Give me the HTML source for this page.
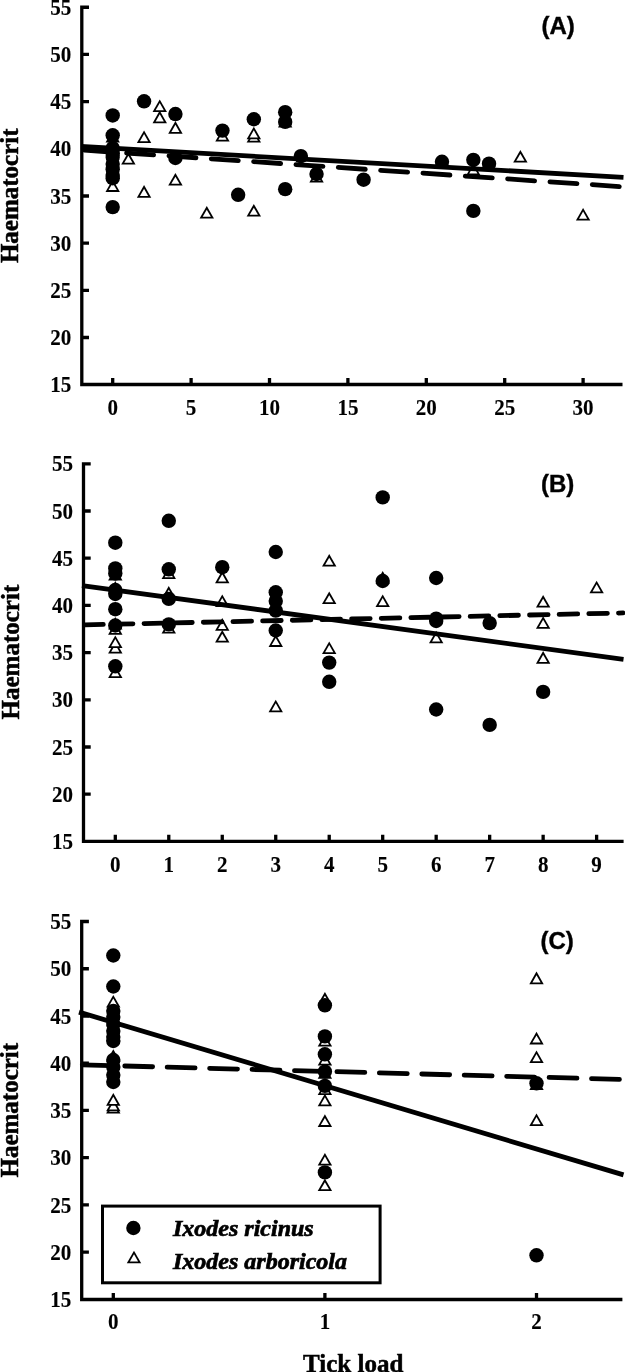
<!DOCTYPE html><html><head><meta charset="utf-8"><style>html,body{margin:0;padding:0;background:#fff;}svg{display:block;will-change:transform;}</style></head><body>
<svg width="625" height="1372" viewBox="0 0 625 1372">
<style>text{font-family:"Liberation Serif",serif;font-weight:bold;stroke:#000;stroke-width:0.12;}.s{font-family:"Liberation Sans",sans-serif;stroke-width:0.4px;}.i{font-style:italic;stroke-width:0.7px;}.h{stroke-width:0.5px;}</style>
<rect width="625" height="1372" fill="#fff"/>
<path d="M583.10 207.90 L590.30 220.50 L575.90 220.50 Z" fill="#000"/><path d="M583.10 211.53 L587.20 218.70 L579.00 218.70 Z" fill="#fff"/>
<path d="M206.78 206.00 L213.98 218.60 L199.58 218.60 Z" fill="#000"/><path d="M206.78 209.63 L210.88 216.80 L202.68 216.80 Z" fill="#fff"/>
<path d="M253.82 204.00 L261.02 216.60 L246.62 216.60 Z" fill="#000"/><path d="M253.82 207.63 L257.92 214.80 L249.72 214.80 Z" fill="#fff"/>
<path d="M144.06 185.10 L151.26 197.70 L136.86 197.70 Z" fill="#000"/><path d="M144.06 188.73 L148.16 195.90 L139.96 195.90 Z" fill="#fff"/>
<path d="M112.70 179.30 L119.90 191.90 L105.50 191.90 Z" fill="#000"/><path d="M112.70 182.93 L116.80 190.10 L108.60 190.10 Z" fill="#fff"/>
<path d="M175.42 173.00 L182.62 185.60 L168.22 185.60 Z" fill="#000"/><path d="M175.42 176.63 L179.52 183.80 L171.32 183.80 Z" fill="#fff"/>
<path d="M316.54 169.90 L323.74 182.50 L309.34 182.50 Z" fill="#000"/><path d="M316.54 173.53 L320.64 180.70 L312.44 180.70 Z" fill="#fff"/>
<path d="M473.34 162.80 L480.54 175.40 L466.14 175.40 Z" fill="#000"/><path d="M473.34 166.43 L477.44 173.60 L469.24 173.60 Z" fill="#fff"/>
<path d="M128.38 152.00 L135.58 164.60 L121.18 164.60 Z" fill="#000"/><path d="M128.38 155.63 L132.48 162.80 L124.28 162.80 Z" fill="#fff"/>
<path d="M520.38 150.00 L527.58 162.60 L513.18 162.60 Z" fill="#000"/><path d="M520.38 153.63 L524.48 160.80 L516.28 160.80 Z" fill="#fff"/>
<path d="M112.70 142.90 L119.90 155.50 L105.50 155.50 Z" fill="#000"/><path d="M112.70 146.53 L116.80 153.70 L108.60 153.70 Z" fill="#fff"/>
<path d="M144.06 130.40 L151.26 143.00 L136.86 143.00 Z" fill="#000"/><path d="M144.06 134.03 L148.16 141.20 L139.96 141.20 Z" fill="#fff"/>
<path d="M112.70 130.00 L119.90 142.60 L105.50 142.60 Z" fill="#000"/><path d="M112.70 133.63 L116.80 140.80 L108.60 140.80 Z" fill="#fff"/>
<path d="M253.82 129.90 L261.02 142.50 L246.62 142.50 Z" fill="#000"/><path d="M253.82 133.53 L257.92 140.70 L249.72 140.70 Z" fill="#fff"/>
<path d="M222.46 128.90 L229.66 141.50 L215.26 141.50 Z" fill="#000"/><path d="M222.46 132.53 L226.56 139.70 L218.36 139.70 Z" fill="#fff"/>
<path d="M253.82 126.70 L261.02 139.30 L246.62 139.30 Z" fill="#000"/><path d="M253.82 130.33 L257.92 137.50 L249.72 137.50 Z" fill="#fff"/>
<path d="M175.42 121.10 L182.62 133.70 L168.22 133.70 Z" fill="#000"/><path d="M175.42 124.73 L179.52 131.90 L171.32 131.90 Z" fill="#fff"/>
<path d="M285.18 115.00 L292.38 127.60 L277.98 127.60 Z" fill="#000"/><path d="M285.18 118.63 L289.28 125.80 L281.08 125.80 Z" fill="#fff"/>
<path d="M159.74 110.60 L166.94 123.20 L152.54 123.20 Z" fill="#000"/><path d="M159.74 114.23 L163.84 121.40 L155.64 121.40 Z" fill="#fff"/>
<path d="M159.74 99.40 L166.94 112.00 L152.54 112.00 Z" fill="#000"/><path d="M159.74 103.03 L163.84 110.20 L155.64 110.20 Z" fill="#fff"/>
<circle cx="112.70" cy="115.46" r="7.2" fill="#000"/>
<circle cx="112.70" cy="135.30" r="7.2" fill="#000"/>
<circle cx="112.70" cy="148.05" r="7.2" fill="#000"/>
<circle cx="112.70" cy="153.25" r="7.2" fill="#000"/>
<circle cx="112.70" cy="157.03" r="7.2" fill="#000"/>
<circle cx="112.70" cy="164.11" r="7.2" fill="#000"/>
<circle cx="112.70" cy="169.31" r="7.2" fill="#000"/>
<circle cx="112.70" cy="174.98" r="7.2" fill="#000"/>
<circle cx="112.70" cy="178.28" r="7.2" fill="#000"/>
<circle cx="112.70" cy="207.10" r="7.2" fill="#000"/>
<circle cx="144.06" cy="101.29" r="7.2" fill="#000"/>
<circle cx="175.42" cy="114.04" r="7.2" fill="#000"/>
<circle cx="175.42" cy="157.97" r="7.2" fill="#000"/>
<circle cx="222.46" cy="130.58" r="7.2" fill="#000"/>
<circle cx="253.82" cy="119.24" r="7.2" fill="#000"/>
<circle cx="285.18" cy="112.15" r="7.2" fill="#000"/>
<circle cx="285.18" cy="121.88" r="7.2" fill="#000"/>
<circle cx="238.14" cy="194.82" r="7.2" fill="#000"/>
<circle cx="285.18" cy="189.15" r="7.2" fill="#000"/>
<circle cx="300.86" cy="156.08" r="7.2" fill="#000"/>
<circle cx="316.54" cy="174.03" r="7.2" fill="#000"/>
<circle cx="363.58" cy="179.70" r="7.2" fill="#000"/>
<circle cx="441.98" cy="161.75" r="7.2" fill="#000"/>
<circle cx="473.34" cy="159.86" r="7.2" fill="#000"/>
<circle cx="489.02" cy="163.64" r="7.2" fill="#000"/>
<circle cx="473.34" cy="210.88" r="7.2" fill="#000"/>
<line x1="81.00" y1="146.43" x2="623.50" y2="177.35" stroke="#000" stroke-width="4.8"/>
<line x1="84.29" y1="150.15" x2="622.00" y2="186.72" stroke="#000" stroke-width="4.8" stroke-dasharray="27.07 15.36" stroke-linecap="round"/>
<path d="M89.00 7.26 H81.80 V384.50 H622.50 M81.80 337.52 H89.00 M81.80 290.34 H89.00 M81.80 243.16 H89.00 M81.80 195.98 H89.00 M81.80 148.80 H89.00 M81.80 101.62 H89.00 M81.80 54.44 H89.00 M112.70 384.50 V378.00 M191.10 384.50 V378.00 M269.50 384.50 V378.00 M347.90 384.50 V378.00 M426.30 384.50 V378.00 M504.70 384.50 V378.00 M583.10 384.50 V378.00" fill="none" stroke="#000" stroke-width="3.3" stroke-linejoin="miter"/>
<text transform="translate(71.30 392.30) scale(0.94 1)" text-anchor="end" font-size="22.4">15</text>
<text transform="translate(71.30 345.12) scale(0.94 1)" text-anchor="end" font-size="22.4">20</text>
<text transform="translate(71.30 297.94) scale(0.94 1)" text-anchor="end" font-size="22.4">25</text>
<text transform="translate(71.30 250.76) scale(0.94 1)" text-anchor="end" font-size="22.4">30</text>
<text transform="translate(71.30 203.58) scale(0.94 1)" text-anchor="end" font-size="22.4">35</text>
<text transform="translate(71.30 156.40) scale(0.94 1)" text-anchor="end" font-size="22.4">40</text>
<text transform="translate(71.30 109.22) scale(0.94 1)" text-anchor="end" font-size="22.4">45</text>
<text transform="translate(71.30 62.04) scale(0.94 1)" text-anchor="end" font-size="22.4">50</text>
<text transform="translate(71.30 14.86) scale(0.94 1)" text-anchor="end" font-size="22.4">55</text>
<text transform="translate(112.70 414.80) scale(0.94 1)" text-anchor="middle" font-size="22.4">0</text>
<text transform="translate(191.10 414.80) scale(0.94 1)" text-anchor="middle" font-size="22.4">5</text>
<text transform="translate(269.50 414.80) scale(0.94 1)" text-anchor="middle" font-size="22.4">10</text>
<text transform="translate(347.90 414.80) scale(0.94 1)" text-anchor="middle" font-size="22.4">15</text>
<text transform="translate(426.30 414.80) scale(0.94 1)" text-anchor="middle" font-size="22.4">20</text>
<text transform="translate(504.70 414.80) scale(0.94 1)" text-anchor="middle" font-size="22.4">25</text>
<text transform="translate(583.10 414.80) scale(0.94 1)" text-anchor="middle" font-size="22.4">30</text>
<text x="541.5" y="33.8" class="s" font-size="24">(A)</text>
<path d="M275.74 699.70 L282.94 712.30 L268.54 712.30 Z" fill="#000"/><path d="M275.74 703.33 L279.84 710.50 L271.64 710.50 Z" fill="#fff"/>
<path d="M115.30 665.40 L122.50 678.00 L108.10 678.00 Z" fill="#000"/><path d="M115.30 669.03 L119.40 676.20 L111.20 676.20 Z" fill="#fff"/>
<path d="M543.14 651.10 L550.34 663.70 L535.94 663.70 Z" fill="#000"/><path d="M543.14 654.73 L547.24 661.90 L539.04 661.90 Z" fill="#fff"/>
<path d="M329.22 641.40 L336.42 654.00 L322.02 654.00 Z" fill="#000"/><path d="M329.22 645.03 L333.32 652.20 L325.12 652.20 Z" fill="#fff"/>
<path d="M115.30 641.00 L122.50 653.60 L108.10 653.60 Z" fill="#000"/><path d="M115.30 644.63 L119.40 651.80 L111.20 651.80 Z" fill="#fff"/>
<path d="M115.30 635.40 L122.50 648.00 L108.10 648.00 Z" fill="#000"/><path d="M115.30 639.03 L119.40 646.20 L111.20 646.20 Z" fill="#fff"/>
<path d="M275.74 634.30 L282.94 646.90 L268.54 646.90 Z" fill="#000"/><path d="M275.74 637.93 L279.84 645.10 L271.64 645.10 Z" fill="#fff"/>
<path d="M436.18 630.70 L443.38 643.30 L428.98 643.30 Z" fill="#000"/><path d="M436.18 634.33 L440.28 641.50 L432.08 641.50 Z" fill="#fff"/>
<path d="M222.26 630.00 L229.46 642.60 L215.06 642.60 Z" fill="#000"/><path d="M222.26 633.63 L226.36 640.80 L218.16 640.80 Z" fill="#fff"/>
<path d="M115.30 622.10 L122.50 634.70 L108.10 634.70 Z" fill="#000"/><path d="M115.30 625.73 L119.40 632.90 L111.20 632.90 Z" fill="#fff"/>
<path d="M168.78 621.00 L175.98 633.60 L161.58 633.60 Z" fill="#000"/><path d="M168.78 624.63 L172.88 631.80 L164.68 631.80 Z" fill="#fff"/>
<path d="M222.26 618.10 L229.46 630.70 L215.06 630.70 Z" fill="#000"/><path d="M222.26 621.73 L226.36 628.90 L218.16 628.90 Z" fill="#fff"/>
<path d="M115.30 617.00 L122.50 629.60 L108.10 629.60 Z" fill="#000"/><path d="M115.30 620.63 L119.40 627.80 L111.20 627.80 Z" fill="#fff"/>
<path d="M543.14 616.20 L550.34 628.80 L535.94 628.80 Z" fill="#000"/><path d="M543.14 619.83 L547.24 627.00 L539.04 627.00 Z" fill="#fff"/>
<path d="M543.14 595.00 L550.34 607.60 L535.94 607.60 Z" fill="#000"/><path d="M543.14 598.63 L547.24 605.80 L539.04 605.80 Z" fill="#fff"/>
<path d="M222.26 594.40 L229.46 607.00 L215.06 607.00 Z" fill="#000"/><path d="M222.26 598.03 L226.36 605.20 L218.16 605.20 Z" fill="#fff"/>
<path d="M382.70 594.40 L389.90 607.00 L375.50 607.00 Z" fill="#000"/><path d="M382.70 598.03 L386.80 605.20 L378.60 605.20 Z" fill="#fff"/>
<path d="M329.22 591.50 L336.42 604.10 L322.02 604.10 Z" fill="#000"/><path d="M329.22 595.13 L333.32 602.30 L325.12 602.30 Z" fill="#fff"/>
<path d="M168.78 586.10 L175.98 598.70 L161.58 598.70 Z" fill="#000"/><path d="M168.78 589.73 L172.88 596.90 L164.68 596.90 Z" fill="#fff"/>
<path d="M115.30 581.10 L122.50 593.70 L108.10 593.70 Z" fill="#000"/><path d="M115.30 584.73 L119.40 591.90 L111.20 591.90 Z" fill="#fff"/>
<path d="M596.62 580.70 L603.82 593.30 L589.42 593.30 Z" fill="#000"/><path d="M596.62 584.33 L600.72 591.50 L592.52 591.50 Z" fill="#fff"/>
<path d="M382.70 571.00 L389.90 583.60 L375.50 583.60 Z" fill="#000"/><path d="M382.70 574.63 L386.80 581.80 L378.60 581.80 Z" fill="#fff"/>
<path d="M222.26 570.60 L229.46 583.20 L215.06 583.20 Z" fill="#000"/><path d="M222.26 574.23 L226.36 581.40 L218.16 581.40 Z" fill="#fff"/>
<path d="M115.30 568.00 L122.50 580.60 L108.10 580.60 Z" fill="#000"/><path d="M115.30 571.63 L119.40 578.80 L111.20 578.80 Z" fill="#fff"/>
<path d="M168.78 566.40 L175.98 579.00 L161.58 579.00 Z" fill="#000"/><path d="M168.78 570.03 L172.88 577.20 L164.68 577.20 Z" fill="#fff"/>
<path d="M329.22 554.00 L336.42 566.60 L322.02 566.60 Z" fill="#000"/><path d="M329.22 557.63 L333.32 564.80 L325.12 564.80 Z" fill="#fff"/>
<circle cx="115.30" cy="542.70" r="7.2" fill="#000"/>
<circle cx="115.30" cy="568.40" r="7.2" fill="#000"/>
<circle cx="115.30" cy="573.50" r="7.2" fill="#000"/>
<circle cx="115.30" cy="590.00" r="7.2" fill="#000"/>
<circle cx="115.30" cy="594.00" r="7.2" fill="#000"/>
<circle cx="115.30" cy="609.20" r="7.2" fill="#000"/>
<circle cx="115.30" cy="625.50" r="7.2" fill="#000"/>
<circle cx="115.30" cy="666.30" r="7.2" fill="#000"/>
<circle cx="168.78" cy="520.80" r="7.2" fill="#000"/>
<circle cx="168.78" cy="569.30" r="7.2" fill="#000"/>
<circle cx="168.78" cy="598.90" r="7.2" fill="#000"/>
<circle cx="168.78" cy="624.40" r="7.2" fill="#000"/>
<circle cx="222.26" cy="567.20" r="7.2" fill="#000"/>
<circle cx="275.74" cy="552.00" r="7.2" fill="#000"/>
<circle cx="275.74" cy="592.30" r="7.2" fill="#000"/>
<circle cx="275.74" cy="601.10" r="7.2" fill="#000"/>
<circle cx="275.74" cy="610.60" r="7.2" fill="#000"/>
<circle cx="275.74" cy="630.50" r="7.2" fill="#000"/>
<circle cx="329.22" cy="662.60" r="7.2" fill="#000"/>
<circle cx="329.22" cy="681.80" r="7.2" fill="#000"/>
<circle cx="382.70" cy="497.40" r="7.2" fill="#000"/>
<circle cx="382.70" cy="581.00" r="7.2" fill="#000"/>
<circle cx="436.18" cy="578.00" r="7.2" fill="#000"/>
<circle cx="436.18" cy="618.70" r="7.2" fill="#000"/>
<circle cx="436.18" cy="621.00" r="7.2" fill="#000"/>
<circle cx="436.18" cy="709.50" r="7.2" fill="#000"/>
<circle cx="489.66" cy="623.10" r="7.2" fill="#000"/>
<circle cx="489.66" cy="724.90" r="7.2" fill="#000"/>
<circle cx="543.14" cy="691.90" r="7.2" fill="#000"/>
<line x1="82.00" y1="585.53" x2="623.50" y2="659.44" stroke="#000" stroke-width="4.8"/>
<line x1="84.70" y1="624.88" x2="623.00" y2="612.93" stroke="#000" stroke-width="4.8" stroke-dasharray="18.61 11.05" stroke-linecap="round"/>
<path d="M90.70 463.80 H83.50 V841.30 H623.60 M83.50 794.20 H90.70 M83.50 747.00 H90.70 M83.50 699.80 H90.70 M83.50 652.60 H90.70 M83.50 605.40 H90.70 M83.50 558.20 H90.70 M83.50 511.00 H90.70 M115.30 841.30 V834.80 M168.78 841.30 V834.80 M222.26 841.30 V834.80 M275.74 841.30 V834.80 M329.22 841.30 V834.80 M382.70 841.30 V834.80 M436.18 841.30 V834.80 M489.66 841.30 V834.80 M543.14 841.30 V834.80 M596.62 841.30 V834.80" fill="none" stroke="#000" stroke-width="3.3" stroke-linejoin="miter"/>
<text transform="translate(73.00 849.00) scale(0.94 1)" text-anchor="end" font-size="22.4">15</text>
<text transform="translate(73.00 801.80) scale(0.94 1)" text-anchor="end" font-size="22.4">20</text>
<text transform="translate(73.00 754.60) scale(0.94 1)" text-anchor="end" font-size="22.4">25</text>
<text transform="translate(73.00 707.40) scale(0.94 1)" text-anchor="end" font-size="22.4">30</text>
<text transform="translate(73.00 660.20) scale(0.94 1)" text-anchor="end" font-size="22.4">35</text>
<text transform="translate(73.00 613.00) scale(0.94 1)" text-anchor="end" font-size="22.4">40</text>
<text transform="translate(73.00 565.80) scale(0.94 1)" text-anchor="end" font-size="22.4">45</text>
<text transform="translate(73.00 518.60) scale(0.94 1)" text-anchor="end" font-size="22.4">50</text>
<text transform="translate(73.00 471.40) scale(0.94 1)" text-anchor="end" font-size="22.4">55</text>
<text transform="translate(115.30 871.60) scale(0.94 1)" text-anchor="middle" font-size="22.4">0</text>
<text transform="translate(168.78 871.60) scale(0.94 1)" text-anchor="middle" font-size="22.4">1</text>
<text transform="translate(222.26 871.60) scale(0.94 1)" text-anchor="middle" font-size="22.4">2</text>
<text transform="translate(275.74 871.60) scale(0.94 1)" text-anchor="middle" font-size="22.4">3</text>
<text transform="translate(329.22 871.60) scale(0.94 1)" text-anchor="middle" font-size="22.4">4</text>
<text transform="translate(382.70 871.60) scale(0.94 1)" text-anchor="middle" font-size="22.4">5</text>
<text transform="translate(436.18 871.60) scale(0.94 1)" text-anchor="middle" font-size="22.4">6</text>
<text transform="translate(489.66 871.60) scale(0.94 1)" text-anchor="middle" font-size="22.4">7</text>
<text transform="translate(543.14 871.60) scale(0.94 1)" text-anchor="middle" font-size="22.4">8</text>
<text transform="translate(596.62 871.60) scale(0.94 1)" text-anchor="middle" font-size="22.4">9</text>
<text x="541" y="492.3" class="s" font-size="24">(B)</text>
<path d="M324.90 1178.50 L332.10 1191.10 L317.70 1191.10 Z" fill="#000"/><path d="M324.90 1182.13 L329.00 1189.30 L320.80 1189.30 Z" fill="#fff"/>
<path d="M324.90 1152.90 L332.10 1165.50 L317.70 1165.50 Z" fill="#000"/><path d="M324.90 1156.53 L329.00 1163.70 L320.80 1163.70 Z" fill="#fff"/>
<path d="M324.90 1114.30 L332.10 1126.90 L317.70 1126.90 Z" fill="#000"/><path d="M324.90 1117.93 L329.00 1125.10 L320.80 1125.10 Z" fill="#fff"/>
<path d="M536.50 1113.40 L543.70 1126.00 L529.30 1126.00 Z" fill="#000"/><path d="M536.50 1117.03 L540.60 1124.20 L532.40 1124.20 Z" fill="#fff"/>
<path d="M113.30 1101.00 L120.50 1113.60 L106.10 1113.60 Z" fill="#000"/><path d="M113.30 1104.63 L117.40 1111.80 L109.20 1111.80 Z" fill="#fff"/>
<path d="M113.30 1098.70 L120.50 1111.30 L106.10 1111.30 Z" fill="#000"/><path d="M113.30 1102.33 L117.40 1109.50 L109.20 1109.50 Z" fill="#fff"/>
<path d="M324.90 1093.70 L332.10 1106.30 L317.70 1106.30 Z" fill="#000"/><path d="M324.90 1097.33 L329.00 1104.50 L320.80 1104.50 Z" fill="#fff"/>
<path d="M113.30 1093.10 L120.50 1105.70 L106.10 1105.70 Z" fill="#000"/><path d="M113.30 1096.73 L117.40 1103.90 L109.20 1103.90 Z" fill="#fff"/>
<path d="M324.90 1082.50 L332.10 1095.10 L317.70 1095.10 Z" fill="#000"/><path d="M324.90 1086.13 L329.00 1093.30 L320.80 1093.30 Z" fill="#fff"/>
<path d="M536.50 1077.30 L543.70 1089.90 L529.30 1089.90 Z" fill="#000"/><path d="M536.50 1080.93 L540.60 1088.10 L532.40 1088.10 Z" fill="#fff"/>
<path d="M324.90 1066.20 L332.10 1078.80 L317.70 1078.80 Z" fill="#000"/><path d="M324.90 1069.83 L329.00 1077.00 L320.80 1077.00 Z" fill="#fff"/>
<path d="M324.90 1052.90 L332.10 1065.50 L317.70 1065.50 Z" fill="#000"/><path d="M324.90 1056.53 L329.00 1063.70 L320.80 1063.70 Z" fill="#fff"/>
<path d="M536.50 1050.40 L543.70 1063.00 L529.30 1063.00 Z" fill="#000"/><path d="M536.50 1054.03 L540.60 1061.20 L532.40 1061.20 Z" fill="#fff"/>
<path d="M113.30 1049.20 L120.50 1061.80 L106.10 1061.80 Z" fill="#000"/><path d="M113.30 1052.83 L117.40 1060.00 L109.20 1060.00 Z" fill="#fff"/>
<path d="M324.90 1034.00 L332.10 1046.60 L317.70 1046.60 Z" fill="#000"/><path d="M324.90 1037.63 L329.00 1044.80 L320.80 1044.80 Z" fill="#fff"/>
<path d="M536.50 1031.80 L543.70 1044.40 L529.30 1044.40 Z" fill="#000"/><path d="M536.50 1035.43 L540.60 1042.60 L532.40 1042.60 Z" fill="#fff"/>
<path d="M113.30 1028.70 L120.50 1041.30 L106.10 1041.30 Z" fill="#000"/><path d="M113.30 1032.33 L117.40 1039.50 L109.20 1039.50 Z" fill="#fff"/>
<path d="M113.30 1013.70 L120.50 1026.30 L106.10 1026.30 Z" fill="#000"/><path d="M113.30 1017.33 L117.40 1024.50 L109.20 1024.50 Z" fill="#fff"/>
<path d="M113.30 994.90 L120.50 1007.50 L106.10 1007.50 Z" fill="#000"/><path d="M113.30 998.53 L117.40 1005.70 L109.20 1005.70 Z" fill="#fff"/>
<path d="M324.90 992.00 L332.10 1004.60 L317.70 1004.60 Z" fill="#000"/><path d="M324.90 995.63 L329.00 1002.80 L320.80 1002.80 Z" fill="#fff"/>
<path d="M536.50 971.60 L543.70 984.20 L529.30 984.20 Z" fill="#000"/><path d="M536.50 975.23 L540.60 982.40 L532.40 982.40 Z" fill="#fff"/>
<circle cx="113.30" cy="955.50" r="7.2" fill="#000"/>
<circle cx="113.30" cy="986.50" r="7.2" fill="#000"/>
<circle cx="113.30" cy="1011.00" r="7.2" fill="#000"/>
<circle cx="113.30" cy="1017.00" r="7.2" fill="#000"/>
<circle cx="113.30" cy="1024.00" r="7.2" fill="#000"/>
<circle cx="113.30" cy="1031.00" r="7.2" fill="#000"/>
<circle cx="113.30" cy="1037.00" r="7.2" fill="#000"/>
<circle cx="113.30" cy="1041.00" r="7.2" fill="#000"/>
<circle cx="113.30" cy="1060.00" r="7.2" fill="#000"/>
<circle cx="113.30" cy="1067.00" r="7.2" fill="#000"/>
<circle cx="113.30" cy="1075.00" r="7.2" fill="#000"/>
<circle cx="113.30" cy="1082.00" r="7.2" fill="#000"/>
<circle cx="324.90" cy="1005.30" r="7.2" fill="#000"/>
<circle cx="324.90" cy="1036.40" r="7.2" fill="#000"/>
<circle cx="324.90" cy="1054.30" r="7.2" fill="#000"/>
<circle cx="324.90" cy="1071.60" r="7.2" fill="#000"/>
<circle cx="324.90" cy="1085.90" r="7.2" fill="#000"/>
<circle cx="324.90" cy="1172.40" r="7.2" fill="#000"/>
<circle cx="536.50" cy="1083.30" r="7.2" fill="#000"/>
<circle cx="536.50" cy="1255.30" r="7.2" fill="#000"/>
<line x1="79.00" y1="1012.11" x2="623.50" y2="1174.92" stroke="#000" stroke-width="4.8"/>
<line x1="82.30" y1="1064.84" x2="622.00" y2="1079.41" stroke="#000" stroke-width="4.8" stroke-dasharray="27.91 14.54" stroke-linecap="round"/>
<path d="M88.90 921.52 H81.70 V1299.50 H622.40 M81.70 1252.17 H88.90 M81.70 1204.93 H88.90 M81.70 1157.70 H88.90 M81.70 1110.46 H88.90 M81.70 1063.23 H88.90 M81.70 1015.99 H88.90 M81.70 968.76 H88.90 M113.30 1299.50 V1293.00 M324.90 1299.50 V1293.00 M536.50 1299.50 V1293.00" fill="none" stroke="#000" stroke-width="3.3" stroke-linejoin="miter"/>
<text transform="translate(71.20 1307.00) scale(0.94 1)" text-anchor="end" font-size="22.4">15</text>
<text transform="translate(71.20 1259.77) scale(0.94 1)" text-anchor="end" font-size="22.4">20</text>
<text transform="translate(71.20 1212.53) scale(0.94 1)" text-anchor="end" font-size="22.4">25</text>
<text transform="translate(71.20 1165.30) scale(0.94 1)" text-anchor="end" font-size="22.4">30</text>
<text transform="translate(71.20 1118.06) scale(0.94 1)" text-anchor="end" font-size="22.4">35</text>
<text transform="translate(71.20 1070.83) scale(0.94 1)" text-anchor="end" font-size="22.4">40</text>
<text transform="translate(71.20 1023.59) scale(0.94 1)" text-anchor="end" font-size="22.4">45</text>
<text transform="translate(71.20 976.36) scale(0.94 1)" text-anchor="end" font-size="22.4">50</text>
<text transform="translate(71.20 929.12) scale(0.94 1)" text-anchor="end" font-size="22.4">55</text>
<text transform="translate(113.30 1328.90) scale(0.94 1)" text-anchor="middle" font-size="22.4">0</text>
<text transform="translate(324.90 1328.90) scale(0.94 1)" text-anchor="middle" font-size="22.4">1</text>
<text transform="translate(536.50 1328.90) scale(0.94 1)" text-anchor="middle" font-size="22.4">2</text>
<text x="540.5" y="948.8" class="s" font-size="24">(C)</text>
<rect x="102.5" y="1206.1" width="277.6" height="76.7" fill="#fff" stroke="#000" stroke-width="3"/>
<circle cx="133.40" cy="1228.00" r="7.2" fill="#000"/>
<path d="M134.00 1250.70 L141.20 1263.30 L126.80 1263.30 Z" fill="#000"/><path d="M134.00 1254.33 L138.10 1261.50 L129.90 1261.50 Z" fill="#fff"/>
<text x="173" y="1236" class="i" font-size="24">Ixodes ricinus</text>
<text x="173" y="1268.6" class="i" font-size="24">Ixodes arboricola</text>
<text transform="translate(17.7 195.75) rotate(-90)" class="h" text-anchor="middle" font-size="25">Haematocrit</text>
<text transform="translate(19.2 652.1) rotate(-90)" class="h" text-anchor="middle" font-size="25">Haematocrit</text>
<text transform="translate(17.7 1110.2) rotate(-90)" class="h" text-anchor="middle" font-size="25">Haematocrit</text>
<text x="353.2" y="1372.3" class="h" text-anchor="middle" font-size="25">Tick load</text>
</svg></body></html>
